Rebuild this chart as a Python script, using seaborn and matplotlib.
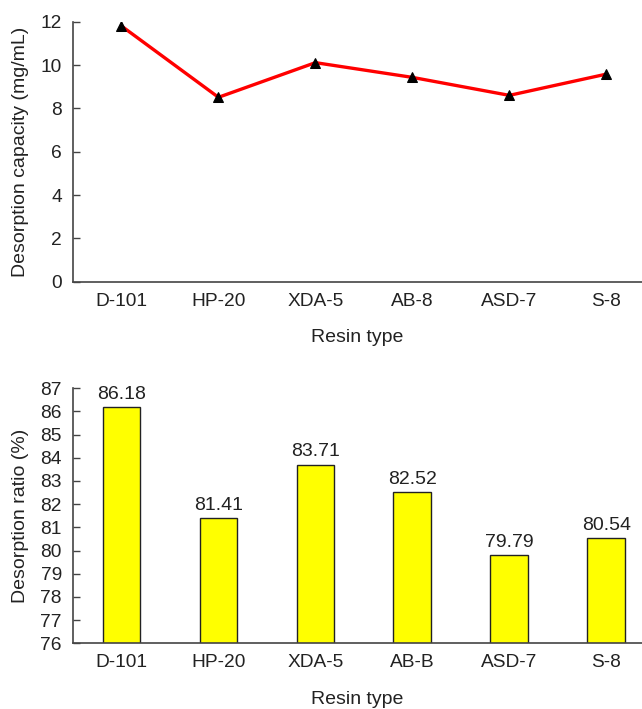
import matplotlib
matplotlib.use("Agg")
import matplotlib.pyplot as plt
import seaborn as sns
import pandas as pd
import numpy as np

# Data
resins_top = ["D-101", "HP-20", "XDA-5", "AB-8", "ASD-7", "S-8"]
capacity = [11.8, 8.51, 10.11, 9.43, 8.60, 9.58]

resins_bottom = ["D-101", "HP-20", "XDA-5", "AB-B", "ASD-7", "S-8"]
ratio = [86.18, 81.41, 83.71, 82.52, 79.79, 80.54]

sns.set_style("white")
plt.rcParams["font.family"] = ["Liberation Sans", "DejaVu Sans"]
plt.rcParams["text.color"] = "#222222"

fig = plt.figure(figsize=(6.42, 7.09), dpi=100)
ax1 = fig.add_axes([0.1137, 0.6027, 0.886, 0.3667])
ax2 = fig.add_axes([0.1137, 0.0927, 0.886, 0.3597])

FS = 14
TFS = 13.8
spine_c = "#444444"

# Top line chart
df1 = pd.DataFrame({"Resin": resins_top, "Capacity": capacity})
sns.lineplot(data=df1, x="Resin", y="Capacity", ax=ax1, color="red", lw=2.4,
             marker="^", markersize=7, markerfacecolor="black",
             markeredgecolor="black", sort=False)
ax1.set_ylim(0, 12)
ax1.set_yticks(np.arange(0, 13, 2))
ax1.set_ylabel("Desorption capacity (mg/mL)", fontsize=FS, labelpad=8)
ax1.set_xlabel("Resin type", fontsize=FS, labelpad=14)

# Bottom bar chart
df2 = pd.DataFrame({"Resin": resins_bottom, "Ratio": ratio})
sns.barplot(data=df2, x="Resin", y="Ratio", ax=ax2, color="#FFFF00",
            saturation=1, width=0.39, edgecolor="#222222", linewidth=1.0)
ax2.set_ylim(76, 87)
ax2.set_yticks(np.arange(76, 88, 1))
ax2.set_ylabel("Desorption ratio (%)", fontsize=FS, labelpad=8)
ax2.set_xlabel("Resin type", fontsize=FS, labelpad=14)
ax2.bar_label(ax2.containers[0], fmt="%.2f", padding=3, fontsize=FS, color="#222222")

for ax in (ax1, ax2):
    ax.set_xlim(-0.5, 5.366)
    for s in ("top", "right"):
        ax.spines[s].set_visible(False)
    for s in ("left", "bottom"):
        ax.spines[s].set_color(spine_c)
        ax.spines[s].set_linewidth(1.2)
    ax.set_xticks(range(6))
    ax.set_xticks(np.arange(0.5, 5.5, 1), minor=True)
    ax.tick_params(axis="x", which="major", length=0, labelsize=TFS, pad=8, labelcolor="#222222")
    ax.tick_params(axis="x", which="minor", direction="in", length=5, width=1, color=spine_c)
    ax.tick_params(axis="y", direction="in", length=5, width=1, color=spine_c,
                   labelsize=TFS, labelcolor="#222222", left=True, pad=8)
    ax.yaxis.label.set_color("#222222")
    ax.xaxis.label.set_color("#222222")

fig.savefig("out.png", dpi=100)
